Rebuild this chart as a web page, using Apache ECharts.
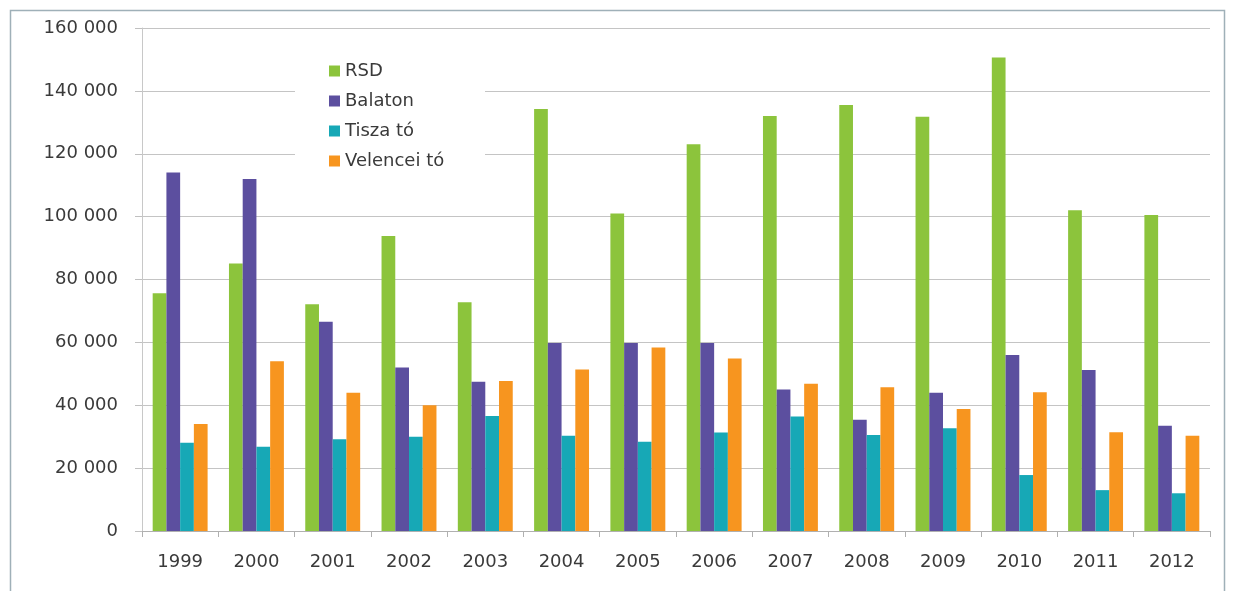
<!DOCTYPE html>
<html><head><meta charset="utf-8">
<script src="https://cdn.jsdelivr.net/npm/echarts@6/dist/echarts.min.js"></script>
<style>html,body{margin:0;padding:0;background:#fff}#c{width:1234px;height:591px}</style>
</head><body><div id="c"></div>
<script>
const years = ['1999','2000','2001','2002','2003','2004','2005','2006','2007','2008','2009','2010','2011','2012'];
const seriesNames = ['RSD','Balaton','Tisza tó','Velencei tó'];
const rsd =      [75600, 85100, 72100, 93800, 72800, 134200, 101000, 123000, 132000, 135500, 131800, 150600, 102000, 100500];
const balaton =  [114000,112000,66600, 52000, 47500, 59800,  59800,  59800,  45000,  35400,  44000,  56000,  51200,  33500];
const tisza =    [28100, 26800, 29200, 30000, 36600, 30300,  28400,  31300,  36400,  30500,  32700,  17800,  13000,  12000];
const velencei = [34000, 54000, 44000, 40000, 47700, 51400,  58400,  54900,  46800,  45700,  38800,  44100,  31400,  30300];
const colors = ['#8cc43c','#5c4f9f','#17a8b6','#f7951f'];

const FONT = 'DejaVu Sans';
const chart = echarts.init(document.getElementById('c'));
const fmt = v => v === 0 ? '0' : String(v).replace(/\B(?=(\d{3})+(?!\d))/g, ' ');
const data = [rsd, balaton, tisza, velencei];
chart.setOption({
  animation: false,
  color: colors,
  textStyle: {fontFamily: FONT},
  graphic: [{type:'rect', shape:{x:10.5,y:10.5,width:1214,height:600}, style:{fill:'none',stroke:'#9fb0b8',lineWidth:1.5}, z:-1},
            {type:'rect', shape:{x:295,y:45,width:190,height:135}, style:{fill:'#fff'}, z:5}],
  grid: {left: 142, right: 24, top: 28, bottom: 60},
  legend: {
    orient: 'vertical', left: 324, top: 57, itemWidth: 11, itemHeight: 11, itemGap: 12,
    icon: 'rect', z: 10,
    textStyle: {fontSize: 18, lineHeight: 18, color: '#3a3a3a', fontFamily: FONT},
    data: seriesNames
  },
  xAxis: {
    type: 'category', data: years,
    axisLine: {lineStyle: {color: '#b0b0b0'}},
    axisTick: {show: true, length: 6, lineStyle: {color: '#b0b0b0'}},
    axisLabel: {fontSize: 18, color: '#3a3a3a', margin: 22, fontFamily: FONT}
  },
  yAxis: {
    type: 'value', min: 0, max: 160000, interval: 20000,
    axisLine: {show: true, lineStyle: {color: '#c8c8c8'}},
    axisTick: {show: true, length: 7, lineStyle: {color: '#c0c0c0'}},
    splitLine: {lineStyle: {color: '#c4c4c4'}},
    axisLabel: {fontSize: 18, color: '#3a3a3a', margin: 24, formatter: fmt, fontFamily: FONT}
  },
  series: seriesNames.map((n, i) => ({
    name: n, type: 'bar', data: data[i], barGap: '0%', barCategoryGap: '28%'
  }))
});
</script></body></html>
